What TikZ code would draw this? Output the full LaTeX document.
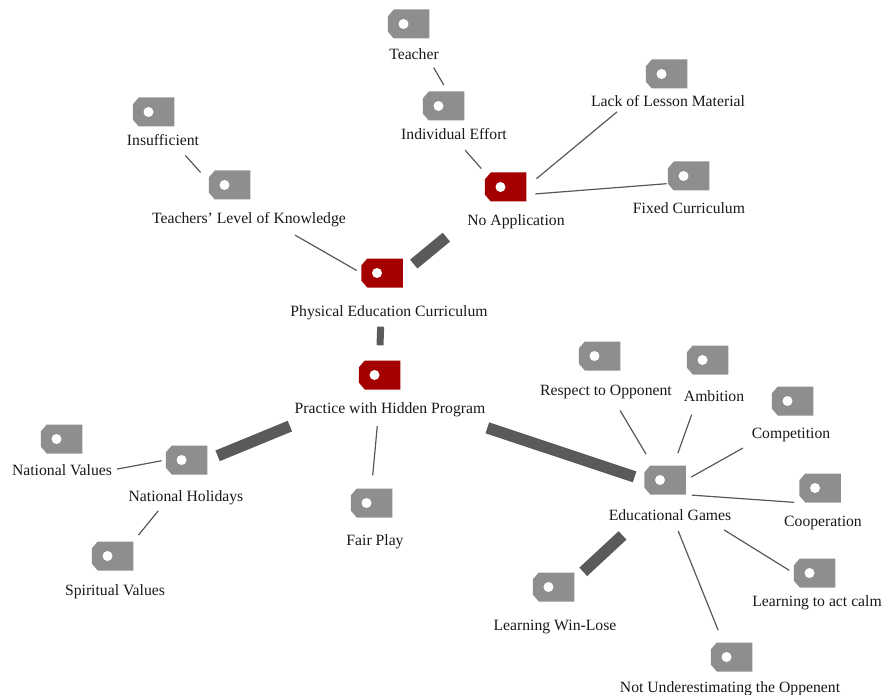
\documentclass[tikz,border=0pt]{standalone}
\usepackage{fontspec}
\setmainfont{Liberation Serif}
\definecolor{tagred}{HTML}{A50000}
\definecolor{taggray}{HTML}{8E8E8E}
\definecolor{barcol}{HTML}{5A5A5A}
\definecolor{thincol}{HTML}{585858}
\tikzset{
    tagbox/.style={rectangle,inner sep=0pt,minimum width=41.5pt,minimum height=29pt,
        path picture={
            \fill[#1] ([xshift=6pt]path picture bounding box.north west)
                -- (path picture bounding box.north east)
                -- (path picture bounding box.south east)
                -- ([xshift=6pt]path picture bounding box.south west)
                -- ([yshift=7pt]path picture bounding box.south west)
                -- ([yshift=-7pt]path picture bounding box.north west) -- cycle;
            \fill[white] ([xshift=-5pt]path picture bounding box.center) circle (5pt);
        }},
    lab/.style={inner sep=0pt,minimum height=20pt,text height=12pt,text depth=1pt,
        text=black!90,font=\fontsize{15.7pt}{17pt}\selectfont},
    thin line/.style={draw=thincol,line width=1.2pt},
    bar/.style={draw=barcol,line width=11.5pt}
}
\begin{document}
\begin{tikzpicture}[x=1pt,y=-1pt]
\useasboundingbox (0,0) rectangle (883,695);

% upper branch
\node[tagbox=taggray] (tagTeacher) at (408.5,24) {};
\node[lab] (labTeacher) at (414,54) {Teacher};
\node[tagbox=taggray] (tagIndiv) at (443.5,106) {};
\node[lab] (labIndiv) at (454,134) {Individual Effort};
\node[tagbox=taggray] (tagLack) at (666.5,74) {};
\node[lab] (labLack) at (668,101) {Lack of Lesson Material};
\node[tagbox=taggray] (tagFixed) at (688.5,176) {};
\node[lab] (labFixed) at (689,208) {Fixed Curriculum};
\node[tagbox=tagred] (tagNoApp) at (505.5,187) {};
\node[lab] (labNoApp) at (516,220) {No Application};
\node[tagbox=taggray] (tagIns) at (153.5,112) {};
\node[lab] (labIns) at (163,140) {Insufficient};
\node[tagbox=taggray] (tagLevel) at (229.5,185) {};
\node[lab] (labLevel) at (249,218) {Teachers' Level of Knowledge};
\node[tagbox=tagred] (tagPhys) at (382,273) {};
\node[lab] (labPhys) at (389,311) {Physical Education Curriculum};

% middle
\node[tagbox=tagred] (tagPrac) at (379.5,375) {};
\node[lab] (labPrac) at (390,408) {Practice with Hidden Program};
\node[tagbox=taggray] (tagVal) at (61.5,439) {};
\node[lab] (labVal) at (62,470) {National Values};
\node[tagbox=taggray] (tagHol) at (186.5,460) {};
\node[lab] (labHol) at (186,496) {National Holidays};
\node[tagbox=taggray] (tagSpi) at (112.5,556) {};
\node[lab] (labSpi) at (115,590) {Spiritual Values};
\node[tagbox=taggray] (tagFair) at (371.5,503) {};
\node[lab] (labFair) at (375,540) {Fair Play};

% games
\node[tagbox=taggray] (tagResp) at (599.5,356) {};
\node[lab] (labResp) at (606,390) {Respect to Opponent};
\node[tagbox=taggray] (tagAmb) at (707.5,360) {};
\node[lab] (labAmb) at (714,396) {Ambition};
\node[tagbox=taggray] (tagComp) at (792.5,401) {};
\node[lab] (labComp) at (791,433) {Competition};
\node[tagbox=taggray] (tagCoop) at (820,488) {};
\node[lab] (labCoop) at (823,521) {Cooperation};
\node[tagbox=taggray] (tagEdu) at (665,480) {};
\node[lab] (labEdu) at (670,515) {Educational Games};
\node[tagbox=taggray] (tagCalm) at (814.5,573) {};
\node[lab] (labCalm) at (817,601) {Learning to act calm};
\node[tagbox=taggray] (tagNot) at (731.5,657) {};
\node[lab] (labNot) at (730,687) {Not Underestimating the Oppenent};
\node[tagbox=taggray] (tagWin) at (553.5,587) {};
\node[lab] (labWin) at (555,625) {Learning Win-Lose};

% thick connectors
\draw[bar,shorten <=14pt,shorten >=27pt] (tagPhys.east) -- (labNoApp.west);
\draw[bar,line width=7pt,shorten <=39pt,shorten >=15pt] (tagPhys.south) -- (tagPrac.north);
\draw[bar,shorten <=2pt,shorten >=10pt] ([yshift=-9pt]labPrac.south east) -- (tagEdu.west);
\draw[bar,shorten <=5pt,shorten >=11pt] ([yshift=-6pt]labPrac.south west) -- (tagHol.east);
\draw[bar,shorten <=15pt,shorten >=12pt] ([xshift=25pt]labEdu.south west) -- ([yshift=7pt]tagWin.east);

% thin connectors
\draw[thin line,shorten <=4pt,shorten >=7pt] (labTeacher.-30) -- (tagIndiv.75);
\draw[thin line,shorten <=8pt,shorten >=5pt] (labIndiv.-60) -- (tagNoApp.north west);
\draw[thin line,shorten <=13pt,shorten >=1pt] (tagNoApp.east) -- ([xshift=27pt]labLack.south west);
\draw[thin line,shorten <=9pt,shorten >=1pt] (tagNoApp.-20) -- (tagFixed.200);
\draw[thin line,shorten <=7pt,shorten >=12pt] (labIns.-30) -- (tagLevel.170);
\draw[thin line,shorten <=14pt,shorten >=5pt] ([xshift=34pt]labLevel.south) -- (tagPhys.west);
\draw[thin line,shorten <=8pt,shorten >=13pt] ([xshift=-12pt]labPrac.south) -- (tagFair.north);
\draw[thin line,shorten <=5pt,shorten >=4pt] (labVal.east) -- (tagHol.west);
\draw[thin line,shorten <=6pt,shorten >=8pt] ([xshift=-24pt]labHol.south) -- (tagSpi.north east);
\draw[thin line,shorten <=12pt,shorten >=13pt] ([xshift=8pt]labResp.south) -- (tagEdu.130);
\draw[thin line,shorten <=9pt,shorten >=13pt] ([xshift=11pt]labAmb.south west) -- (tagEdu.60);
\draw[thin line,shorten <=10pt,shorten >=6pt] (labComp.south west) -- (tagEdu.east);
\draw[thin line,shorten <=6pt,shorten >=5pt] (tagEdu.south east) -- (tagCoop.south west);
\draw[thin line,shorten <=9pt,shorten >=5pt] ([xshift=-15pt]labEdu.south east) -- (tagCalm.west);
\draw[thin line,shorten <=6pt,shorten >=13pt] (labEdu.-60) -- (tagNot.120);
\end{tikzpicture}
\end{document}
